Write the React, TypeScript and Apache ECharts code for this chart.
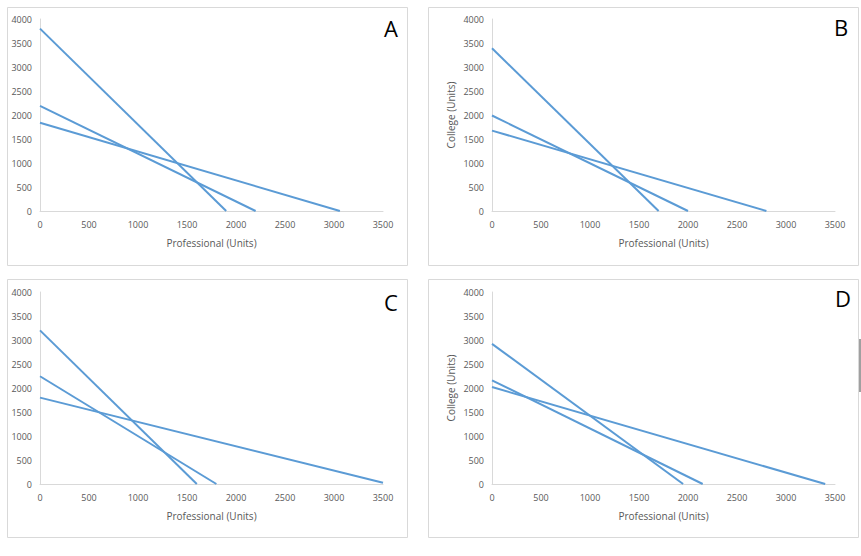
import React, { useEffect, useRef } from "react";
import * as echarts from "echarts";

// Each panel: three budget lines, each given as [x-intercept endpoints]
const panelLabels = ["A", "B", "C", "D"];

const lineA1 = [[0, 3800], [1900, 0]];
const lineA2 = [[0, 2190], [2200, 0]];
const lineA3 = [[0, 1840], [3060, 0]];

const lineB1 = [[0, 3390], [1700, 0]];
const lineB2 = [[0, 1990], [2000, 0]];
const lineB3 = [[0, 1675], [2800, 0]];

const lineC1 = [[0, 3200], [1600, 0]];
const lineC2 = [[0, 2245], [1800, 0]];
const lineC3 = [[0, 1800], [3500, 25]];

const lineD1 = [[0, 2920], [1950, 0]];
const lineD2 = [[0, 2160], [2150, 0]];
const lineD3 = [[0, 2020], [3400, 0]];

const panelLines = [
  [lineA1, lineA2, lineA3],
  [lineB1, lineB2, lineB3],
  [lineC1, lineC2, lineC3],
  [lineD1, lineD2, lineD3],
];

const showYTitle = [false, true, false, true];

const xTitle = "Professional (Units)";
const yTitle = "College (Units)";

export default function App() {
  const ref = useRef<HTMLDivElement>(null);

  useEffect(() => {
    if (!ref.current) return;
    const chart = echarts.init(ref.current, null, { renderer: "svg" });

    const gridPos = [
      { left: 40, top: 19 },
      { left: 492, top: 19 },
      { left: 40, top: 292 },
      { left: 492, top: 292 },
    ];
    const boxes = [
      { x: 7.5, y: 7.5, w: 400, h: 258 },
      { x: 428.5, y: 7.5, w: 430, h: 258 },
      { x: 7.5, y: 279.5, w: 400, h: 258 },
      { x: 428.5, y: 279.5, w: 430, h: 258 },
    ];
    const letterPos = [
      { x: 391, y: 28 },
      { x: 841, y: 27 },
      { x: 391, y: 302 },
      { x: 843, y: 298 },
    ];

    const font = "'Open Sans', 'Liberation Sans', sans-serif";
    const axisLine = { show: true, lineStyle: { color: "#d9d9d9", width: 1 } };
    const axisLabel = {
      color: "#595959",
      fontSize: 9,
      fontFamily: font,
      formatter: (v: number) => String(v),
    };

    const grid = gridPos.map((g) => ({ left: g.left, top: g.top, width: 343, height: 192 }));
    const xAxis = gridPos.map((_, i) => ({
      type: "value",
      gridIndex: i,
      min: 0,
      max: 3500,
      interval: 500,
      splitLine: { show: false },
      axisTick: { show: false },
      axisLine,
      axisLabel: { ...axisLabel, margin: 9 },
      name: xTitle,
      nameLocation: "middle",
      nameGap: 27,
      nameTextStyle: { color: "#595959", fontSize: 10, fontFamily: font },
    }));
    const yAxis = gridPos.map((_, i) => ({
      type: "value",
      gridIndex: i,
      min: 0,
      max: 4000,
      interval: 500,
      splitLine: { show: false },
      axisTick: { show: false },
      axisLine,
      axisLabel: { ...axisLabel, margin: 8 },
      name: showYTitle[i] ? yTitle : "",
      nameLocation: "middle",
      nameGap: 36,
      nameRotate: 90,
      nameTextStyle: { color: "#595959", fontSize: 10, fontFamily: font },
    }));

    const series: any[] = [];
    panelLines.forEach((lines, i) => {
      lines.forEach((pts) => {
        series.push({
          type: "line",
          xAxisIndex: i,
          yAxisIndex: i,
          data: pts,
          showSymbol: false,
          symbol: "none",
          lineStyle: { color: "#5b9bd5", width: 2 },
          silent: true,
        });
      });
    });

    const graphic: any[] = [];
    boxes.forEach((b) => {
      graphic.push({
        type: "rect",
        shape: { x: b.x, y: b.y, width: b.w, height: b.h },
        style: { fill: "none", stroke: "#d9d9d9", lineWidth: 1 },
        z: -1,
      });
    });
    panelLabels.forEach((t, i) => {
      graphic.push({
        type: "text",
        x: letterPos[i].x,
        y: letterPos[i].y,
        style: {
          text: t,
          fill: "#000",
          fontSize: 22,
          fontFamily: font,
          align: "center",
          verticalAlign: "middle",
        },
      });
    });
    graphic.push({
      type: "rect",
      shape: { x: 859, y: 339, width: 2, height: 53 },
      style: { fill: "#a0a0a0" },
    });

    chart.setOption({
      animation: false,
      backgroundColor: "#ffffff",
      grid,
      xAxis,
      yAxis,
      series,
      graphic,
    });

    return () => chart.dispose();
  }, []);

  return (
    <div
      ref={ref}
      style={{ position: "fixed", left: 0, top: 0, width: 861, height: 556 }}
    />
  );
}
